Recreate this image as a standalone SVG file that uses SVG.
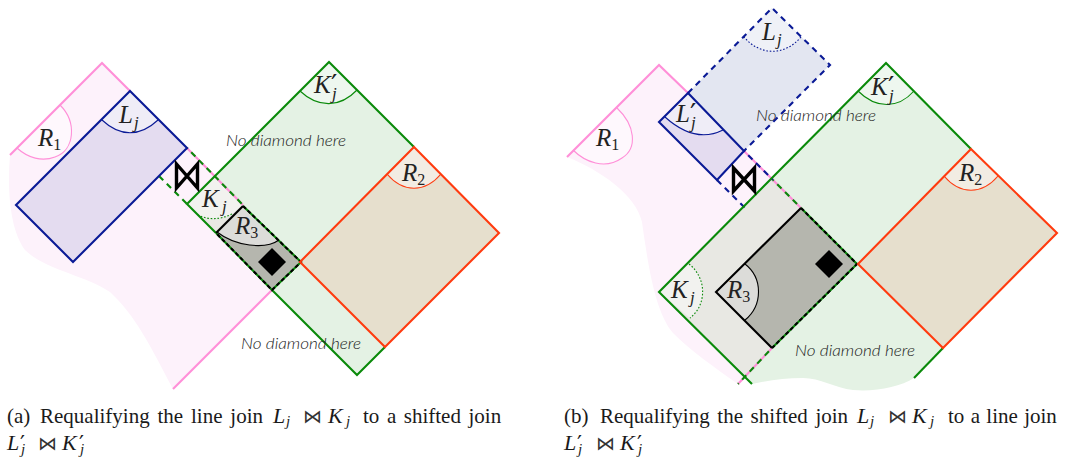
<svg xmlns="http://www.w3.org/2000/svg" width="1065" height="464" viewBox="0 0 1065 464">
<style>
.e{fill:none;stroke-width:2.1;stroke-linejoin:miter}
.pk{stroke:#ff8fd8}.nv{stroke:#0a1a96}.gr{stroke:#0a8a0a}.rd{stroke:#ff3b0f}.bk{stroke:#000}
.d{stroke-dasharray:6 5}
.kd{stroke-dasharray:4 2.5}
.dot{stroke-dasharray:1.6 1.8}
.a{stroke-width:1.1}
.m{font-family:"Liberation Serif",serif;font-style:italic;font-size:25px;fill:#222}
.s{font-family:"Liberation Serif",serif;font-style:normal;font-size:16px;fill:#222}
.si{font-family:"Liberation Serif",serif;font-style:italic;font-size:17px;fill:#222}
.pr{font-family:"DejaVu Sans",sans-serif;font-style:normal;font-size:28px;fill:#222}
.nd{font-family:Lato,"Open Sans",sans-serif;font-style:italic;font-weight:300;font-size:15px;fill:#222}
.c{font-family:"Liberation Serif",serif;font-size:21px;fill:#1a1a1a}
.ci{font-family:"Liberation Serif",serif;font-style:italic;font-size:22px;fill:#1a1a1a}
.cs{font-family:"Liberation Serif",serif;font-style:italic;font-size:15px;fill:#1a1a1a}
.cp{font-family:"DejaVu Sans",sans-serif;font-style:normal;font-size:22px;fill:#1a1a1a}
.cj{font-family:"DejaVu Sans",sans-serif;font-size:19px;fill:#333}
.bow{fill:none;stroke:#000;stroke-width:3.4;stroke-linejoin:miter}
</style>

<g id="figure-a">
<g id="a-R1"><path d="M102 63L301 262L173 389C150 345 135 315 110 292C85 275 45 270 25 250C10 230 7 190 10 155Z" fill="#fdf2fb"/></g>
<g id="a-K-prime"><path d="M329 62L499 233L357 375L187 204Z" fill="#e4f2e4"/></g>
<g id="a-R2"><path d="M414 147L499 233L385 347L300 262Z" fill="#e6dfcd"/></g>
<g id="a-Lj"><path d="M130 91L187 148L73 262L16 205Z" fill="#e4dcf0"/></g>
<g id="a-Kj"><path d="M187 204L215 176L243 205L216 233Z" fill="#e8e8e3"/></g>
<g id="a-R3"><path d="M243 206L301 262L272 290L216 233Z" fill="#b5b6ae"/></g>
<path d="M130 91L158 120C140 137 120 137 102 120Z" fill="#efedf7"/>
<path d="M60 105C77 122 75 150 55 157C42 162 28 158 17 148L10 155Z" fill="#fef8fd"/>
<path d="M329 62L357 90C340 108 318 108 300 91Z" fill="#eef7ef"/>
<path d="M414 147L441 174C425 193 403 193 387 174Z" fill="#f2ece3"/>
<path d="M187 204L215 176L243 205L232 214C220 220 208 220 198 215Z" fill="#f2f2ef"/>
<path d="M243 206L279 240C265 250 235 246 217 232Z" fill="#dcdcd9"/>
</g>

<g id="figure-b">
<g id="b-R1"><path d="M659 65L857 263L738 384C715 368 690 350 673 333C655 312 648 265 642 222C636 195 600 170 567 157Z" fill="#fdf2fb"/></g>
<g id="b-K-prime"><path d="M886 63L1057 233L943 348L914 378C900 387 875 392 853 390C835 388 820 378 803 378C785 378 770 380 752 384L659 292Z" fill="#e4f2e4"/></g>
<g id="b-R2"><path d="M971 149L1057 233L943 348L858 264Z" fill="#e6dfcd"/></g>
<g id="b-Kj"><path d="M659 292L773 179L857 264L745 377Z" fill="#e8e8e3"/></g>
<g id="b-R3"><path d="M801 208L857 264L772 348L716 292Z" fill="#b5b6ae"/></g>
<g id="b-Lj"><path d="M772 8L830 65L744 151L688 93Z" fill="#e3e6f1"/></g>
<g id="b-Lj-prime"><path d="M688 93L744 151L717 180L659 122Z" fill="#e4dcf0"/></g>
<path d="M772 8L801 37C785 56 760 56 744 37Z" fill="#eff1f7"/>
<path d="M688 93L723 130C705 139 685 135 665 117L659 122Z" fill="#efedf7"/>
<path d="M617 108C635 125 638 148 622 158C605 170 585 162 573 150L567 157Z" fill="#fef8fd"/>
<path d="M886 63L914 91C898 109 876 109 858 91Z" fill="#eef7ef"/>
<path d="M971 149L998 176C982 195 960 195 944 176Z" fill="#f2ece3"/>
<path d="M659 292L689 264C707 278 707 305 690 318Z" fill="#f2f2ef"/>
<path d="M716 292L745 264C763 278 763 305 745 320Z" fill="#dcdcd9"/>
</g>

<g id="connectors">
<path class="e pk" d="M10 155L102 63L130 91"/>
<path class="e pk" d="M272 290L173 389"/>
<path class="e pk" d="M187 148L243 205"/>
<path class="e gr d" d="M187 148L243 205" stroke-dashoffset="5"/>
<path class="e gr d" d="M159 176L187 204"/>
<path class="e nv" d="M130 91L187 148L73 262L16 205Z"/>
<path class="e gr" d="M414 147L329 62L187 204L216 233"/>
<path class="e gr" d="M272 290L357 375L385 347"/>
<path class="e gr" d="M243 206L301 262L272 290L216 233"/>
<path class="e bk kd" d="M243 206L301 262L272 290L216 233"/>
<path class="e bk" d="M216 233L243 206"/>
<path class="e rd" d="M414 147L499 233L385 347L300 262Z"/>
<path class="e pk a" d="M60 105C77 122 75 150 55 157C42 162 28 158 17 148"/>
<path class="e nv a" d="M158 120C140 137 120 137 102 120"/>
<path class="e gr a" d="M357 90C340 108 318 108 300 91"/>
<path class="e rd a" d="M441 174C425 193 403 193 387 174"/>
<path class="e gr a dot" d="M232 214C220 220 208 220 198 215"/>
<path class="e bk a" d="M279 240C265 250 235 246 217 232"/>
<path class="e pk" d="M567 157L659 65L688 93"/>
<path class="e pk" d="M738 384L772 348"/>
<path class="e gr d" d="M738 384L772 348" stroke-dashoffset="5"/>
<path class="e pk" d="M744 151L801 208"/>
<path class="e nv d" d="M744 151L773 180" stroke-dashoffset="5"/>
<path class="e gr d" d="M773 180L801 208" stroke-dashoffset="5"/>
<path class="e nv d" d="M688 93L772 8L830 65L744 151"/>
<path class="e nv d" d="M717 180L745 208"/>
<path class="e nv" d="M688 93L744 151L717 180L659 122Z"/>
<path class="e gr" d="M971 149L886 63L659 292L752 384"/>
<path class="e gr" d="M943 348L914 378"/>
<path class="e gr" d="M801 208L857 264L772 348"/>
<path class="e bk kd" d="M801 208L857 264L772 348"/>
<path class="e bk" d="M801 208L716 292L772 348"/>
<path class="e rd" d="M971 149L1057 233L943 348L858 264Z"/>
<path class="e pk a" d="M617 108C635 125 638 148 622 158C605 170 585 162 573 150"/>
<path class="e nv a dot" d="M801 37C785 56 760 56 744 37"/>
<path class="e nv a" d="M723 130C705 139 685 135 665 117"/>
<path class="e gr a" d="M914 91C898 109 876 109 858 91"/>
<path class="e rd a" d="M998 176C982 195 960 195 944 176"/>
<path class="e gr a dot" d="M689 264C707 278 707 305 690 318"/>
<path class="e bk a" d="M745 264C763 278 763 305 745 320"/>
</g>

<g id="symbols">
<path class="bow" d="M176.500 164L197.500 188V164L176.500 188Z"/>
<path class="bow" d="M733.500 168L754.500 191V168L733.500 191Z"/>
<path d="M272 248L286 262L272 276L258 262Z"/>
<path d="M829 250L843 264L829 278L815 264Z"/>
</g>

<g id="labels">
<text class="m" x="38" y="146">R<tspan class="s" dy="4">1</tspan></text>
<text class="m" x="119" y="123">L<tspan class="si" x="134" dy="5">j</tspan></text>
<text class="m" x="202" y="207">K<tspan class="si" x="222" dy="5">j</tspan></text>
<text class="m" x="235" y="234">R<tspan class="s" dy="4">3</tspan></text>
<text class="m" x="314" y="93">K<tspan class="pr" x="331" dy="2">′</tspan><tspan class="si" x="332" dy="4">j</tspan></text>
<text class="m" x="402" y="181">R<tspan class="s" dy="4">2</tspan></text>
<text class="m" x="596" y="146">R<tspan class="s" dy="4">1</tspan></text>
<text class="m" x="762" y="40">L<tspan class="si" x="777" dy="5">j</tspan></text>
<text class="m" x="676" y="122">L<tspan class="pr" x="690" dy="2">′</tspan><tspan class="si" x="691" dy="4">j</tspan></text>
<text class="m" x="671" y="298">K<tspan class="si" x="690" dy="5">j</tspan></text>
<text class="m" x="727" y="298">R<tspan class="s" dy="4">3</tspan></text>
<text class="m" x="871" y="95">K<tspan class="pr" x="888" dy="2">′</tspan><tspan class="si" x="889" dy="4">j</tspan></text>
<text class="m" x="959" y="181">R<tspan class="s" dy="4">2</tspan></text>
<text class="nd" x="226" y="146" textLength="120" lengthAdjust="spacingAndGlyphs">No diamond here</text>
<text class="nd" x="241" y="349" textLength="120" lengthAdjust="spacingAndGlyphs">No diamond here</text>
<text class="nd" x="756" y="121" textLength="120" lengthAdjust="spacingAndGlyphs">No diamond here</text>
<text class="nd" x="795" y="356" textLength="120" lengthAdjust="spacingAndGlyphs">No diamond here</text>
</g>

<g id="captions">
<text class="c" x="7" y="423">(a)</text>
<text class="c" x="40" y="423" word-spacing="2.6">Requalifying the line join</text>
<text class="ci" x="273" y="423">L<tspan class="cs" x="286" dy="3">j</tspan></text>
<text class="cj" x="303" y="423">⋈</text>
<text class="ci" x="328" y="423">K<tspan class="cs" x="346" dy="3">j</tspan></text>
<text class="c" x="363" y="423" word-spacing="2.3">to a shifted join</text>
<text class="ci" x="7" y="450">L<tspan class="cp" x="20" dy="1">′</tspan><tspan class="cs" x="21" dy="3">j</tspan></text>
<text class="cj" x="38" y="450">⋈</text>
<text class="ci" x="62" y="450">K<tspan class="cp" x="79" dy="1">′</tspan><tspan class="cs" x="80" dy="3">j</tspan></text>
<text class="c" x="564" y="423">(b)</text>
<text class="c" x="600" y="423" word-spacing="2.4">Requalifying the shifted join</text>
<text class="ci" x="857" y="423">L<tspan class="cs" x="870" dy="3">j</tspan></text>
<text class="cj" x="888" y="423">⋈</text>
<text class="ci" x="912" y="423">K<tspan class="cs" x="930" dy="3">j</tspan></text>
<text class="c" x="948" y="423" word-spacing="1.1">to a line join</text>
<text class="ci" x="564" y="450">L<tspan class="cp" x="577" dy="1">′</tspan><tspan class="cs" x="578" dy="3">j</tspan></text>
<text class="cj" x="596" y="450">⋈</text>
<text class="ci" x="620" y="450">K<tspan class="cp" x="637" dy="1">′</tspan><tspan class="cs" x="638" dy="3">j</tspan></text>
</g>
</svg>
